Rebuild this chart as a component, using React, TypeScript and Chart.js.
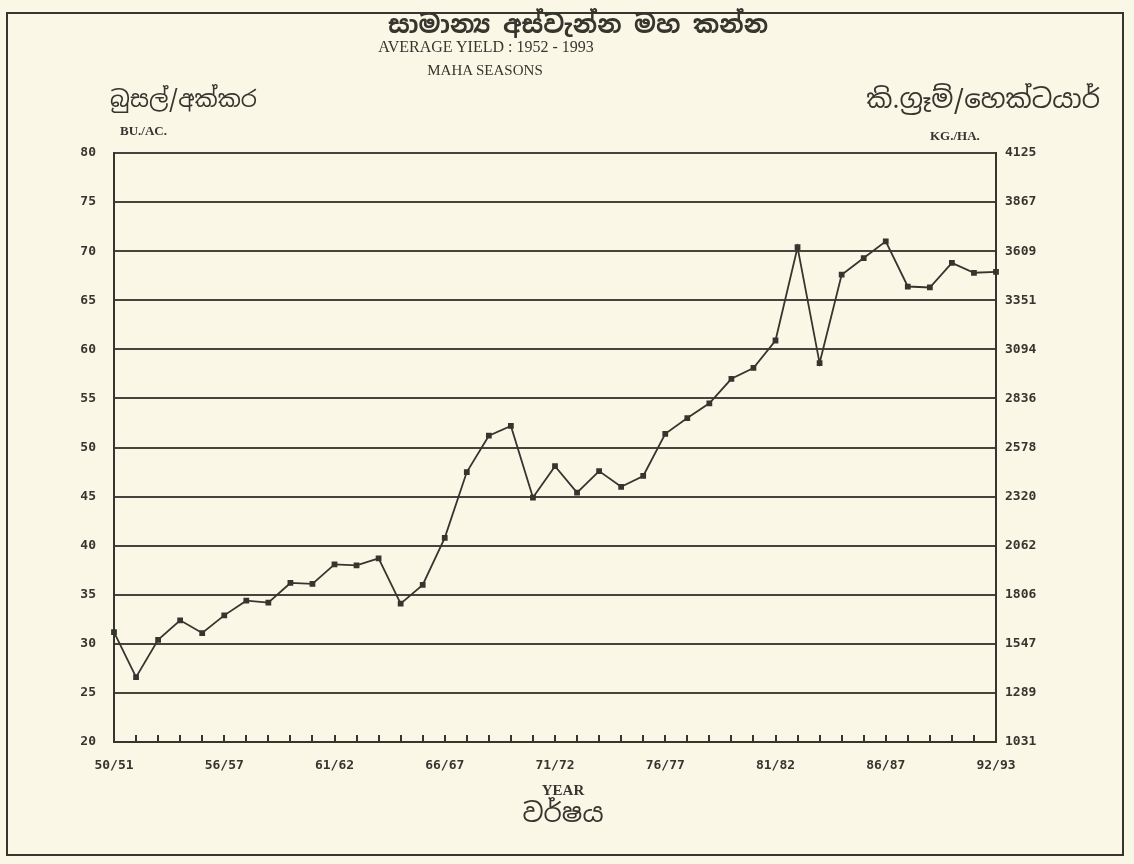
import React, { useEffect, useRef } from "react";
import { Chart, registerables } from "chart.js";

Chart.register(...registerables);

// x categories (tick labels printed every fifth season, as on the original)
const categories: string[] = [
  "50/51", "", "", "", "", "56/57", "", "", "", "",
  "61/62", "", "", "", "", "66/67", "", "", "", "",
  "71/72", "", "", "", "", "76/77", "", "", "", "",
  "81/82", "", "", "", "", "86/87", "", "", "", "",
  "92/93",
];

// average yield, bushels per acre
const yieldBuAc: number[] = [
  31.2, 26.6, 30.4, 32.4, 31.1, 32.9, 34.4, 34.2, 36.2, 36.1,
  38.1, 38.0, 38.7, 34.1, 36.0, 40.8, 47.5, 51.2, 52.2, 44.9,
  48.1, 45.4, 47.6, 46.0, 47.1, 51.4, 53.0, 54.5, 57.0, 58.1,
  60.9, 70.4, 58.6, 67.6, 69.3, 71.0, 66.4, 66.3, 68.8, 67.8,
  67.9,
];

// right axis labels (kg/ha) for 20, 25, ... 80 bu/ac
const kgLabels: string[] = [
  "1031", "1289", "1547", "1806", "2062", "2320", "2578",
  "2836", "3094", "3351", "3609", "3867", "4125",
];

const INK = "#36362f";
const GRID = "#45453e";
const PAPER = "#fbf7e7";
const TICK_FONT = { family: "'DejaVu Sans Mono', monospace", size: 13, weight: "bold" as const };
const SINHALA = "'Noto Sans Sinhala', 'Noto Serif Sinhala', 'Iskoola Pota', 'Noto Sans', sans-serif";

const innerTicks = {
  id: "innerTicks",
  afterDatasetsDraw(chart: any) {
    const x = chart.scales.x;
    const bottom = chart.chartArea.bottom;
    const ctx = chart.ctx;
    ctx.save();
    ctx.strokeStyle = INK;
    ctx.lineWidth = 2;
    for (let i = 1; i < categories.length - 1; i++) {
      const px = Math.round(x.getPixelForValue(i));
      ctx.beginPath();
      ctx.moveTo(px, bottom);
      ctx.lineTo(px, bottom - 7);
      ctx.stroke();
    }
    ctx.restore();
  },
};

export default function App() {
  const canvasRef = useRef<HTMLCanvasElement | null>(null);

  useEffect(() => {
    if (!canvasRef.current) return;
    const chart = new Chart(canvasRef.current, {
      type: "line",
      data: {
        labels: categories,
        datasets: [
          {
            data: yieldBuAc,
            borderColor: INK,
            backgroundColor: INK,
            borderWidth: 1.8,
            pointStyle: "rect",
            pointRadius: 2.8,
            pointBackgroundColor: INK,
            pointBorderColor: INK,
            tension: 0,
            yAxisID: "y",
          },
        ],
      },
      plugins: [innerTicks],
      options: {
        animation: false,
        responsive: false,
        devicePixelRatio: 1,
        layout: { padding: { top: 153, left: 0, right: 0, bottom: 0 } },
        plugins: { legend: { display: false }, tooltip: { enabled: false }, title: { display: false } },
        scales: {
          x: {
            type: "category",
            offset: false,
            grid: { display: false, drawTicks: false },
            border: { display: true, color: INK, width: 2 },
            ticks: {
              autoSkip: false,
              maxRotation: 0,
              minRotation: 0,
              padding: 16,
              color: INK,
              font: TICK_FONT,
            },
            afterFit: (s: any) => {
              s.height = 122;
            },
          },
          y: {
            position: "left",
            min: 20,
            max: 80,
            grid: { color: GRID, lineWidth: 2, drawTicks: false },
            border: { display: true, color: INK, width: 2 },
            ticks: { stepSize: 5, padding: 18, color: INK, font: TICK_FONT },
            afterFit: (s: any) => {
              s.width = 114;
            },
          },
          y2: {
            position: "right",
            min: 20,
            max: 80,
            grid: { display: false, drawTicks: false },
            border: { display: true, color: INK, width: 2 },
            ticks: {
              stepSize: 5,
              padding: 9,
              color: INK,
              font: TICK_FONT,
              callback: (v: any) => kgLabels[Math.round((Number(v) - 20) / 5)] ?? "",
            },
            afterFit: (s: any) => {
              s.width = 138;
            },
          },
        },
      },
    });
    return () => chart.destroy();
  }, []);

  const abs = (extra: React.CSSProperties): React.CSSProperties => ({
    position: "absolute",
    whiteSpace: "nowrap",
    color: INK,
    lineHeight: 1,
    ...extra,
  });

  return (
    <div style={{ position: "fixed", left: 0, top: 0, width: 1134, height: 864, background: PAPER, overflow: "hidden" }}>
      <div
        style={{
          position: "absolute",
          left: 6,
          top: 12,
          width: 1118,
          height: 844,
          border: `2px solid ${INK}`,
          boxSizing: "border-box",
        }}
      />
      <canvas ref={canvasRef} width={1134} height={864} style={{ position: "absolute", left: 0, top: 0 }} />
      <div style={abs({ left: 578, top: 12, transform: "translateX(-50%)", fontFamily: SINHALA, fontSize: 25, fontWeight: "bold" })}>
        සාමාන්‍ය අස්වැන්න මහ කන්න
      </div>
      <div style={abs({ left: 486, top: 39, transform: "translateX(-50%)", fontFamily: "'Liberation Serif', serif", fontSize: 16 })}>
        AVERAGE YIELD : 1952 - 1993
      </div>
      <div style={abs({ left: 485, top: 63, transform: "translateX(-50%)", fontFamily: "'Liberation Serif', serif", fontSize: 15 })}>
        MAHA SEASONS
      </div>
      <div style={abs({ left: 110, top: 88, fontFamily: SINHALA, fontSize: 23 })}>බුසල්/අක්කර</div>
      <div style={abs({ left: 120, top: 124, fontFamily: "'Liberation Serif', serif", fontSize: 13, fontWeight: "bold" })}>
        BU./AC.
      </div>
      <div style={abs({ right: 1134 - 1100, top: 86, fontFamily: SINHALA, fontSize: 26 })}>කි.ග්‍රෑම්/හෙක්ටයාර්</div>
      <div style={abs({ left: 930, top: 129, fontFamily: "'Liberation Serif', serif", fontSize: 13, fontWeight: "bold" })}>
        KG./HA.
      </div>
      <div style={abs({ left: 563, top: 783, transform: "translateX(-50%)", fontFamily: "'Liberation Serif', serif", fontSize: 15, fontWeight: "bold" })}>
        YEAR
      </div>
      <div style={abs({ left: 563, top: 800, transform: "translateX(-50%)", fontFamily: SINHALA, fontSize: 26 })}>වර්ෂය</div>
    </div>
  );
}
